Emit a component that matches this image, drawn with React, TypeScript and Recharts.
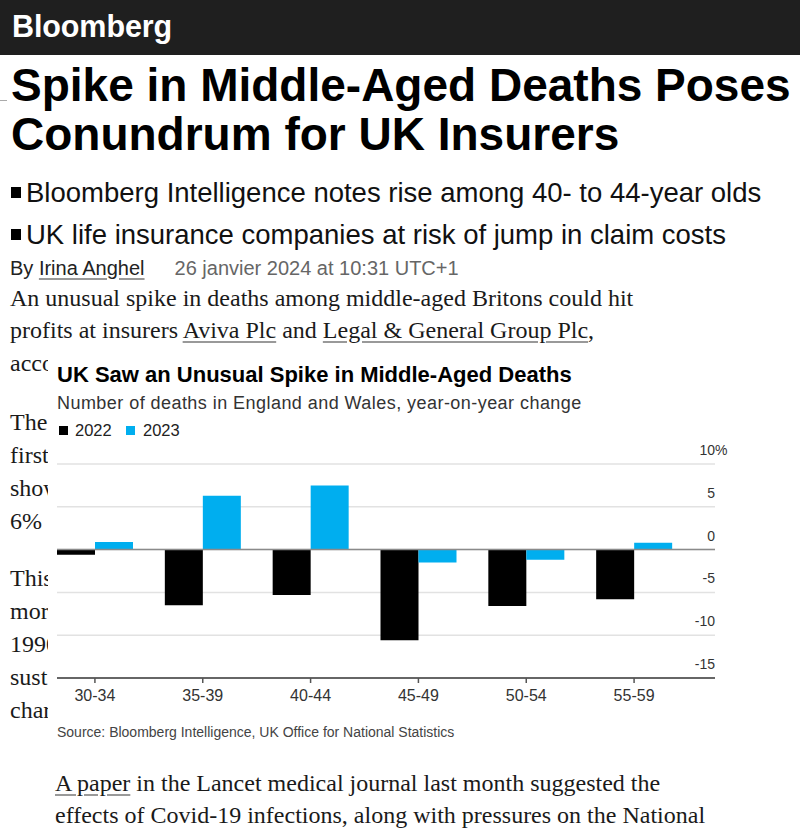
import React from 'react';
import { BarChart, Bar, XAxis, YAxis, CartesianGrid, ReferenceLine } from 'recharts';

// ---- data ----
const AGE_GROUPS = ['30-34', '35-39', '40-44', '45-49', '50-54', '55-59'];
const CHANGE_2022 = [-0.6, -6.5, -5.3, -10.6, -6.6, -5.8];
const CHANGE_2023 = [0.9, 6.3, 7.5, -1.5, -1.2, 0.8];
const Y_TICKS = [-15, -10, -5, 0, 5, 10];
const SERIES_NAMES = ['2022', '2023'];

const data = AGE_GROUPS.map((g, i) => ({ group: g, y2022: CHANGE_2022[i], y2023: CHANGE_2023[i] }));

// ---- layout ----
const SANS = '"Liberation Sans", Arial, Helvetica, sans-serif';
const SERIF = '"Liberation Serif", "Times New Roman", serif';
const BLACK = '#000000';
const BLUE = '#00AEEF';

const CHART_W = 800;
const CHART_H = 300;
const CHART_TOP = 440;
const MARGIN = { top: 24, right: 84, left: 57, bottom: 32 };
const Y_AXIS_W = 1;
const PLOT_RIGHT = CHART_W - MARGIN.right - Y_AXIS_W;
const PANEL_LEFT = 48;

function Line({ top, left, size, children, style }: any) {
  const lh = Math.round(size * 1.3);
  return (
    <div
      style={{
        position: 'absolute',
        left,
        top: top - lh / 2,
        height: lh,
        lineHeight: lh + 'px',
        fontSize: size,
        whiteSpace: 'nowrap',
        ...style,
      }}
    >
      {children}
    </div>
  );
}

const YTick = (props: any) => {
  const { y, payload } = props;
  const v = payload.value;
  const isTop = v === Y_TICKS[Y_TICKS.length - 1];
  return (
    <g>
      <text x={PLOT_RIGHT} y={y - 9} textAnchor="end" fontSize={14} fill="#333" fontFamily={SANS}>
        {v}
      </text>
      {isTop && (
        <text x={PLOT_RIGHT} y={y - 9} textAnchor="start" fontSize={14} fill="#333" fontFamily={SANS}>
          %
        </text>
      )}
    </g>
  );
};

const XTick = (props: any) => {
  const { x, y, payload } = props;
  return (
    <text x={x} y={y + 18} textAnchor="middle" fontSize={16} fill="#333" fontFamily={SANS}>
      {payload.value}
    </text>
  );
};

const serifLine = (top: number, left: number, text: React.ReactNode) => (
  <Line top={top} left={left} size={24} style={{ fontFamily: SERIF, color: '#1a1a1a' }}>
    {text}
  </Line>
);

const linkStyle = { textDecoration: 'underline', textDecorationColor: '#999', textUnderlineOffset: 3 } as const;

export default function App() {
  return (
    <div
      style={{
        position: 'absolute',
        left: 0,
        top: 0,
        width: 800,
        height: 836,
        overflow: 'hidden',
        background: '#fff',
        fontFamily: SANS,
        color: '#111',
      }}
    >
      {/* header bar */}
      <div style={{ position: 'absolute', left: 0, top: 0, width: 800, height: 55, background: '#1f1f1f' }} />
      <Line top={26} left={12} size={30.5} style={{ color: '#fff', fontWeight: 700, letterSpacing: -0.1 }}>
        Bloomberg
      </Line>
      <div style={{ position: 'absolute', left: 0, top: 100, width: 7, height: 1, background: '#aaa' }} />

      {/* headline */}
      <Line top={85} left={11} size={46} style={{ fontWeight: 700, color: '#000' }}>
        Spike in Middle-Aged Deaths Poses
      </Line>
      <Line top={134} left={11} size={46} style={{ fontWeight: 700, color: '#000' }}>
        Conundrum for UK Insurers
      </Line>

      {/* bullets */}
      <div style={{ position: 'absolute', left: 11, top: 187, width: 10, height: 11, background: '#000' }} />
      <Line top={193} left={26} size={27.5} style={{ color: '#111' }}>
        Bloomberg Intelligence notes rise among 40- to 44-year olds
      </Line>
      <div style={{ position: 'absolute', left: 11, top: 229, width: 10, height: 11, background: '#000' }} />
      <Line top={235} left={26} size={27.5} style={{ color: '#111' }}>
        UK life insurance companies at risk of jump in claim costs
      </Line>

      {/* byline */}
      <Line top={268} left={10} size={20} style={{ color: '#222' }}>
        By <span style={linkStyle}>Irina Anghel</span>
        <span style={{ color: '#666', marginLeft: 30 }}>26 janvier 2024 at 10:31 UTC+1</span>
      </Line>

      {/* article body (partly hidden behind the chart panel) */}
      {serifLine(298, 10, 'An unusual spike in deaths among middle-aged Britons could hit')}
      {serifLine(330, 10, (
        <>
          profits at insurers <span style={linkStyle}>Aviva Plc</span> and{' '}
          <span style={linkStyle}>Legal &amp; General Group Plc</span>,
        </>
      ))}
      {serifLine(363, 10, 'acco')}
      {serifLine(422, 10, 'The')}
      {serifLine(455, 10, 'first')}
      {serifLine(488, 10, 'show')}
      {serifLine(521, 10, '6% i')}
      {serifLine(578, 10, 'This')}
      {serifLine(611, 10, 'mor')}
      {serifLine(644, 10, '1990')}
      {serifLine(677, 10, 'sust')}
      {serifLine(710, 10, 'char')}
      {serifLine(783, 55, (
        <>
          <span style={linkStyle}>A paper</span> in the Lancet medical journal last month suggested the
        </>
      ))}
      {serifLine(815, 55, 'effects of Covid-19 infections, along with pressures on the National')}

      {/* chart panel */}
      <div style={{ position: 'absolute', left: PANEL_LEFT, top: 350, width: 752, height: 398, background: '#fff' }} />
      <Line top={374} left={57} size={22} style={{ fontWeight: 700, color: '#000' }}>
        UK Saw an Unusual Spike in Middle-Aged Deaths
      </Line>
      <Line top={403} left={57} size={18} style={{ color: '#333', letterSpacing: 0.45 }}>
        Number of deaths in England and Wales, year-on-year change
      </Line>
      {/* legend */}
      <div style={{ position: 'absolute', left: 59, top: 426, width: 9, height: 9, background: BLACK }} />
      <Line top={430} left={75} size={16.5} style={{ color: '#222' }}>
        {SERIES_NAMES[0]}
      </Line>
      <div style={{ position: 'absolute', left: 126, top: 426, width: 9, height: 9, background: BLUE }} />
      <Line top={430} left={143} size={16.5} style={{ color: '#222' }}>
        {SERIES_NAMES[1]}
      </Line>

      <div style={{ position: 'absolute', left: 0, top: CHART_TOP }}>
        <BarChart
          width={CHART_W}
          height={CHART_H}
          data={data}
          margin={MARGIN}
          barCategoryGap={16}
          barGap={0}
        >
          <CartesianGrid vertical={false} stroke="#e2e2e2" strokeWidth={1.5} />
          <ReferenceLine y={0} stroke="#8a8a8a" strokeWidth={1.5} />
          <XAxis
            dataKey="group"
            padding={{ left: -16, right: 27 }}
            axisLine={{ stroke: '#666', strokeWidth: 2 }}
            tickLine={{ stroke: '#555', strokeWidth: 1.5 }}
            tickSize={5}
            tickMargin={0}
            height={30}
            interval={0}
            tick={<XTick />}
          />
          <YAxis
            orientation="right"
            width={Y_AXIS_W}
            domain={[-15, 10]}
            ticks={Y_TICKS}
            axisLine={false}
            tickLine={false}
            tick={<YTick />}
            interval={0}
          />
          <Bar dataKey="y2022" name={SERIES_NAMES[0]} fill={BLACK} isAnimationActive={false} />
          <Bar dataKey="y2023" name={SERIES_NAMES[1]} fill={BLUE} isAnimationActive={false} />
        </BarChart>
      </div>

      <Line top={732} left={57} size={14} style={{ color: '#444' }}>
        Source: Bloomberg Intelligence, UK Office for National Statistics
      </Line>
    </div>
  );
}
